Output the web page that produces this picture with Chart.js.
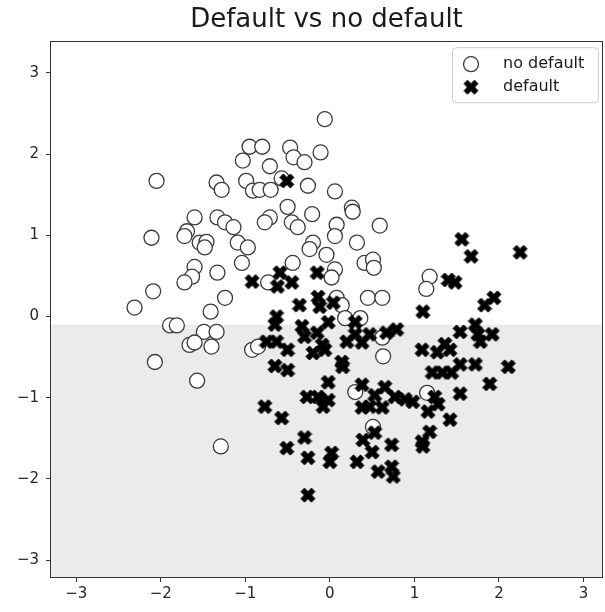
<!DOCTYPE html>
<html>
<head>
<meta charset="utf-8">
<script src="https://cdn.jsdelivr.net/npm/chart.js@4/dist/chart.umd.min.js"></script>
<style>
  html, body { margin: 0; padding: 0; background: #ffffff; }
  #plot { display: block; }
</style>
</head>
<body>
<canvas id="plot" width="605" height="612"></canvas>
<script>
// Observations of customers who did not default
const noDefaultX = [
  -0.06, -0.95, -0.80, -0.47, -0.43, -0.30, -0.11, -1.03, -0.71, -2.05,
  -1.34, -1.28, -0.99, -0.91, -0.83, -0.70, -0.57, -0.26, 0.06, -0.50,
  0.26, 0.27, -0.21, -0.71, -0.77, -0.45, -0.38, 0.08, 0.59, -1.60,
  -1.33, -1.24, -1.14, -1.69, -2.11, -1.72, -1.54, -1.46, -1.48, -1.09,
  -0.97, -1.04, -1.60, -1.63, -1.72, -1.33, -2.09, -1.24, -2.31, -1.41,
  -1.89, -1.81, -1.49, -1.34, -1.66, -1.60, -1.40, -0.92, -2.07, -1.57,
  -1.29, 0.06, 0.32, -0.20, -0.24, -0.04, 0.41, 0.51, 0.52, -0.44,
  0.06, 0.02, -0.73, 0.08, 0.14, 0.45, 0.62, 0.18, 0.36, 0.62,
  -0.85, 0.63, 1.18, 1.14, 0.30, 0.51, 1.15
];
const noDefaultY = [
  2.43, 2.09, 2.09, 2.08, 1.96, 1.90, 2.02, 1.92, 1.85, 1.67,
  1.65, 1.56, 1.67, 1.55, 1.56, 1.56, 1.70, 1.61, 1.54, 1.35,
  1.34, 1.29, 1.26, 1.22, 1.16, 1.16, 1.10, 1.13, 1.12, 1.22,
  1.22, 1.16, 1.10, 1.05, 0.97, 0.99, 0.91, 0.92, 0.85, 0.91,
  0.85, 0.66, 0.61, 0.49, 0.42, 0.54, 0.31, 0.23, 0.11, 0.06,
  -0.11, -0.11, -0.19, -0.19, -0.35, -0.32, -0.37, -0.41, -0.56, -0.79,
  -1.60, 0.99, 0.91, 0.91, 0.83, 0.76, 0.66, 0.70, 0.60, 0.66,
  0.58, 0.48, 0.42, 0.23, 0.14, 0.23, 0.23, -0.02, -0.02, -0.26,
  -0.37, -0.49, 0.49, 0.34, -0.93, -1.36, -0.94
];

// Observations of customers who defaulted
const defaultX = [
  -0.51, -0.92, -0.59, -0.62, -0.45, -0.15, -0.36, -0.14, -0.12, 0.04,
  -0.63, -0.65, -0.33, -0.02, 0.30, -0.75, -0.63, -0.50, -0.30, -0.15,
  -0.09, -0.20, -0.06, 0.20, 0.30, 0.38, 0.47, 0.67, 0.14, -0.65,
  -0.50, 0.15, -0.02, -0.27, -0.14, -0.02, -0.08, 0.38, 0.53, 0.65,
  0.47, 0.62, 0.38, -0.77, -0.57, 0.53, -0.30, -0.51, -0.26, 0.02,
  0.00, 0.39, 0.50, 0.32, 0.57, 0.73, 0.73, 0.75, -0.26, 1.56,
  1.67, 2.25, 1.40, 1.48, 1.83, 1.94, 1.10, 0.79, 1.54, 1.72,
  1.75, 1.78, 1.92, 1.09, 1.27, 1.36, 1.42, 1.54, 1.72, 2.11,
  1.21, 1.33, 1.44, 1.89, 0.77, 0.89, 0.98, 1.24, 1.28, 1.16,
  1.54, 1.42, 1.18, 1.09, 1.10
];
const defaultY = [
  1.67, 0.43, 0.54, 0.37, 0.42, 0.54, 0.14, 0.24, 0.12, 0.17,
  0.00, -0.10, -0.12, -0.07, -0.07, -0.31, -0.31, -0.41, -0.25, -0.20,
  -0.35, -0.45, -0.41, -0.31, -0.22, -0.32, -0.22, -0.20, -0.56, -0.61,
  -0.66, -0.62, -0.81, -0.99, -0.99, -1.03, -1.11, -0.84, -0.97, -0.87,
  -1.11, -1.12, -1.12, -1.11, -1.25, -1.43, -1.49, -1.62, -1.74, -1.68,
  -1.79, -1.52, -1.67, -1.79, -1.91, -1.58, -1.85, -1.97, -2.20, 0.95,
  0.74, 0.79, 0.45, 0.42, 0.14, 0.23, 0.06, -0.16, -0.19, -0.10,
  -0.22, -0.31, -0.22, -0.41, -0.44, -0.34, -0.41, -0.59, -0.59, -0.62,
  -0.69, -0.69, -0.69, -0.83, -0.99, -1.02, -1.05, -0.99, -1.08, -1.17,
  -0.95, -1.27, -1.42, -1.54, -1.60
];

const seriesLabels = ['no default', 'default'];
const xTicks = [-3, -2, -1, 0, 1, 2, 3];
const yTicks = [-3, -2, -1, 0, 1, 2, 3];
const xLimits = [-3.31, 3.23];
const yLimits = [-3.22, 3.39];
// Predicted "default" region lies below this value of the second feature
const splitY = -0.1;

const FONT = "'DejaVu Sans', sans-serif";

function toPoints(xs, ys) {
  return xs.map((x, i) => ({ x: x, y: ys[i] }));
}

// Filled "X" marker drawn once on a small canvas
function makeCross(size) {
  const c = document.createElement('canvas');
  c.width = size; c.height = size;
  const g = c.getContext('2d');
  const u = (size - 2) / 4;
  const m = size / 2;
  const pts = [[-1,-2],[0,-1],[1,-2],[2,-1],[1,0],[2,1],[1,2],[0,1],[-1,2],[-2,1],[-1,0],[-2,-1]];
  g.beginPath();
  pts.forEach((p, i) => {
    const px = m + p[0] * u, py = m + p[1] * u;
    if (i === 0) g.moveTo(px, py); else g.lineTo(px, py);
  });
  g.closePath();
  g.fillStyle = '#000000';
  g.fill();
  g.lineWidth = 1;
  g.strokeStyle = '#000000';
  g.lineJoin = 'miter';
  g.stroke();
  return c;
}
const crossMarker = makeCross(16);

function minusLabel(v) {
  return v < 0 ? '\u2212' + Math.abs(v) : String(v);
}

// Shaded decision region, frame and legend
const regionPlugin = {
  id: 'region',
  beforeDatasetsDraw(chart) {
    const { ctx, chartArea: a, scales } = chart;
    const yb = scales.y.getPixelForValue(splitY);
    ctx.save();
    ctx.fillStyle = '#ebebeb';
    ctx.fillRect(a.left, yb, a.right - a.left, a.bottom - yb);
    ctx.restore();
  },
  afterDatasetsDraw(chart) {
    const { ctx, chartArea: a } = chart;
    ctx.save();
    ctx.strokeStyle = '#333333';
    ctx.lineWidth = 1;
    ctx.strokeRect(Math.round(a.left) + 0.5, Math.round(a.top) + 0.5,
                   Math.round(a.right - a.left) - 1, Math.round(a.bottom - a.top) - 1);
    ctx.restore();
  },
  afterDraw(chart) {
    const { ctx, chartArea: a } = chart;
    const w = 146, h = 55;
    const bx = a.right - 5 - w, by = a.top + 6;
    ctx.save();
    ctx.beginPath();
    if (ctx.roundRect) ctx.roundRect(bx + 0.5, by + 0.5, w, h, 4); else ctx.rect(bx + 0.5, by + 0.5, w, h);
    ctx.fillStyle = 'rgba(255,255,255,0.8)';
    ctx.fill();
    ctx.strokeStyle = '#cccccc';
    ctx.lineWidth = 1;
    ctx.stroke();

    const mx = bx + 19;
    const rows = [by + 17, by + 40];
    // circle entry
    ctx.beginPath();
    ctx.arc(mx, rows[0], 7.5, 0, Math.PI * 2);
    ctx.fillStyle = '#ffffff';
    ctx.fill();
    ctx.strokeStyle = '#3a3a3a';
    ctx.lineWidth = 1.3;
    ctx.stroke();
    // cross entry
    ctx.drawImage(crossMarker, mx - 8, rows[1] - 8);

    ctx.fillStyle = '#1a1a1a';
    ctx.font = '16px ' + FONT;
    ctx.textBaseline = 'middle';
    ctx.textAlign = 'left';
    chart.data.datasets.forEach((ds, i) => {
      ctx.fillText(ds.label, bx + 51, rows[i]);
    });
    ctx.restore();
  }
};

const tickFont = { family: FONT, size: 15 };

new Chart(document.getElementById('plot'), {
  type: 'scatter',
  data: {
    datasets: [
      {
        label: seriesLabels[0],
        data: toPoints(noDefaultX, noDefaultY),
        pointStyle: 'circle',
        pointRadius: 7.5,
        pointHoverRadius: 7.5,
        backgroundColor: '#ffffff',
        borderColor: '#3a3a3a',
        borderWidth: 1.3,
        order: 1
      },
      {
        label: seriesLabels[1],
        data: toPoints(defaultX, defaultY),
        pointStyle: crossMarker,
        pointRadius: 8,
        pointHoverRadius: 8,
        backgroundColor: '#000000',
        borderColor: '#000000',
        order: 0
      }
    ]
  },
  options: {
    responsive: false,
    devicePixelRatio: 1,
    animation: false,
    events: [],
    layout: { autoPadding: false, padding: { left: 0, right: 2, top: 0, bottom: 0 } },
    plugins: {
      legend: { display: false },
      tooltip: { enabled: false },
      title: {
        display: true,
        text: 'Default vs no default',
        fullSize: false,
        color: '#1a1a1a',
        font: { family: FONT, size: 26, weight: 'normal' },
        padding: { top: 5, bottom: 5 }
      }
    },
    scales: {
      x: {
        type: 'linear',
        min: xLimits[0],
        max: xLimits[1],
        afterBuildTicks: (s) => { s.ticks = xTicks.map(v => ({ value: v })); },
        afterFit: (s) => { s.height = 34; },
        border: { display: false },
        grid: { drawOnChartArea: false, drawTicks: true, tickLength: 4, color: '#333333' },
        ticks: { color: '#262626', font: tickFont, padding: 3, maxRotation: 0, callback: minusLabel }
      },
      y: {
        type: 'linear',
        min: yLimits[0],
        max: yLimits[1],
        afterBuildTicks: (s) => { s.ticks = yTicks.map(v => ({ value: v })); },
        afterFit: (s) => { s.width = 50; },
        border: { display: false },
        grid: { drawOnChartArea: false, drawTicks: true, tickLength: 4, color: '#333333' },
        ticks: { color: '#262626', font: tickFont, padding: 7, callback: minusLabel }
      }
    }
  },
  plugins: [regionPlugin]
});
</script>
</body>
</html>
